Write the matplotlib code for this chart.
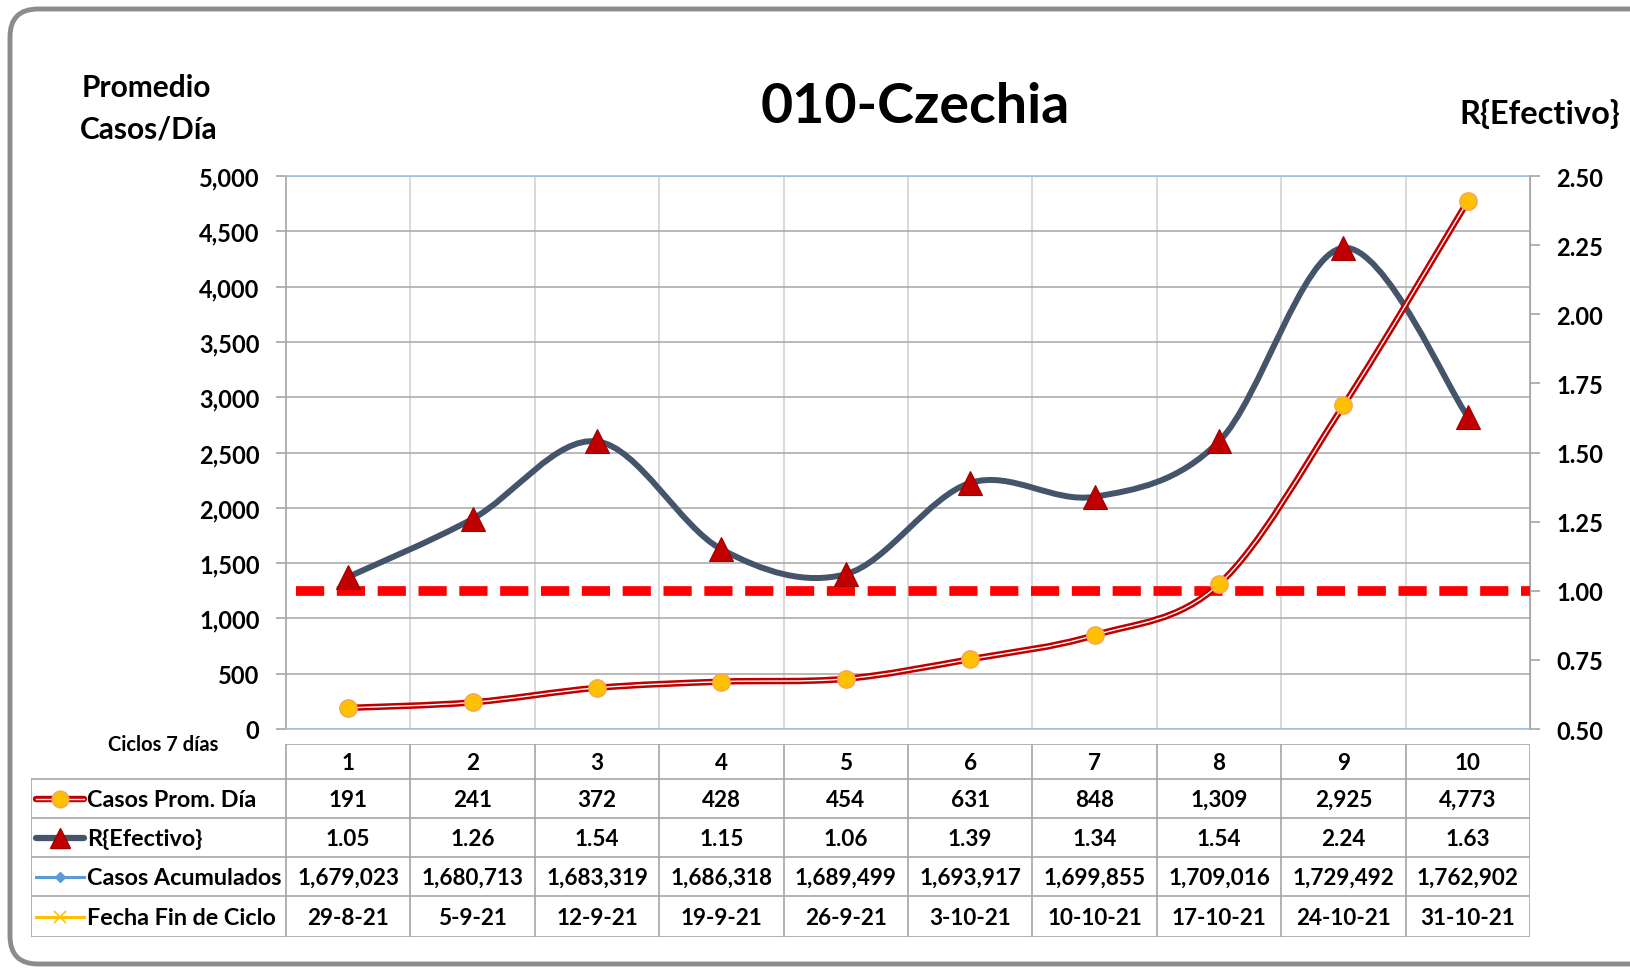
import matplotlib.pyplot as plt
from matplotlib.path import Path
from matplotlib.patches import PathPatch, FancyBboxPatch

# -------------------------
# Data
# -------------------------
ciclos = [1, 2, 3, 4, 5, 6, 7, 8, 9, 10]
casos_prom = [191, 241, 372, 428, 454, 631, 848, 1309, 2925, 4773]
r_efectivo = [1.05, 1.26, 1.54, 1.15, 1.06, 1.39, 1.34, 1.54, 2.24, 1.63]
casos_acum = [1679023, 1680713, 1683319, 1686318, 1689499,
              1693917, 1699855, 1709016, 1729492, 1762902]
fechas = ["29-8-21", "5-9-21", "12-9-21", "19-9-21", "26-9-21",
          "3-10-21", "10-10-21", "17-10-21", "24-10-21", "31-10-21"]
r_umbral = 1.0

row_labels = ["Casos Prom. Día", "R{Efectivo}", "Casos Acumulados", "Fecha Fin de Ciclo"]

plt.rcParams['font.family'] = ['Lato', 'DejaVu Sans']
plt.rcParams['font.weight'] = 'bold'

W, H = 1630, 970
RED = "#C00000"
SLATE = "#44546A"
GRID = "#A6A6A6"


def px_box(x0, y0, x1, y1):
    return [x0 / W, 1 - y1 / H, (x1 - x0) / W, (y1 - y0) / H]


def smooth_path(xs, ys):
    # Excel-style smoothed line: cubic bezier through every point
    pts = list(zip(xs, ys))
    n = len(pts)
    verts = [pts[0]]
    codes = [Path.MOVETO]
    for i in range(n - 1):
        p0 = pts[max(i - 1, 0)]
        p1 = pts[i]
        p2 = pts[i + 1]
        p3 = pts[min(i + 2, n - 1)]
        c1 = (p1[0] + (p2[0] - p0[0]) / 6, p1[1] + (p2[1] - p0[1]) / 6)
        c2 = (p2[0] - (p3[0] - p1[0]) / 6, p2[1] - (p3[1] - p1[1]) / 6)
        verts += [c1, c2, p2]
        codes += [Path.CURVE4] * 3
    return Path(verts, codes)


fig = plt.figure(figsize=(W / 100, H / 100), dpi=100)

# -------------------------
# Background frame + texts
# -------------------------
bg = fig.add_axes([0, 0, 1, 1])
bg.set_xlim(0, W)
bg.set_ylim(H, 0)
bg.axis("off")
bg.add_patch(FancyBboxPatch((10, 10), 1650, 955,
                            boxstyle="round,pad=0,rounding_size=28",
                            fc="white", ec="#8C8C8C", lw=3.5))

bg.text(915, 107, "010-Czechia", fontsize=40, ha="center", va="center")
bg.text(146, 88, "Promedio", fontsize=21.5, ha="center", va="center")
bg.text(149, 129, "Casos/Día", fontsize=21.5, ha="center", va="center")
bg.text(1540, 114, "R{Efectivo}", fontsize=23.5, ha="center", va="center")
bg.text(163, 745, "Ciclos 7 días", fontsize=14.5, ha="center", va="center")

# -------------------------
# Main chart
# -------------------------
ax = fig.add_axes(px_box(286, 177, 1530, 730))
axr = ax.twinx()

ax.set_yticks(range(0, 5001, 500))
ax.set_yticklabels([f"{v:,}" for v in range(0, 5001, 500)])
ax.set_xticks([c + 0.5 for c in ciclos[:-1]])
ax.set_xticklabels([])
ax.tick_params(axis="x", length=0)
ax.tick_params(axis="y", length=7, width=1.2, color=GRID, pad=12, labelsize=17)
ax.yaxis.grid(True, color=GRID, lw=1.1)
ax.xaxis.grid(True, color="#D0D0D0", lw=1.1)
ax.set_axisbelow(True)
for s in ["top", "bottom"]:
    ax.spines[s].set_color("#9DC3E6")
    ax.spines[s].set_linewidth(1.2)
for s in ["left", "right"]:
    ax.spines[s].set_color(GRID)
    ax.spines[s].set_linewidth(1.2)

r_ticks = [0.5, 0.75, 1.0, 1.25, 1.5, 1.75, 2.0, 2.25, 2.5]
axr.set_yticks(r_ticks)
axr.set_yticklabels([f"{v:.2f}" for v in r_ticks])
axr.tick_params(axis="y", length=7, width=1.2, color=GRID, pad=12, labelsize=17)
for s in ["top", "bottom", "left"]:
    axr.spines[s].set_visible(False)
axr.spines["right"].set_color(GRID)

# umbral R = 1
axr.axhline(r_umbral, xmin=0.008, xmax=1, color="#FF0000", lw=7,
            dashes=(2.9, 1.3), solid_capstyle="butt", dash_capstyle="butt", zorder=1)

# R efectivo
axr.add_patch(PathPatch(smooth_path(ciclos, r_efectivo), fill=False,
                        ec=SLATE, lw=4.3, capstyle="round", zorder=2))
axr.plot(ciclos, r_efectivo, linestyle="none", marker="^", ms=17,
         mfc=RED, mec="#A00000", mew=0.8, zorder=3)

# casos promedio (double red line) on top
cp = smooth_path(ciclos, casos_prom)
axr.add_patch(PathPatch(cp, transform=ax.transData, fill=False,
                        ec=RED, lw=4.6, capstyle="round", zorder=4))
axr.add_patch(PathPatch(cp, transform=ax.transData, fill=False,
                        ec="white", lw=1.0, capstyle="round", zorder=5))
axr.plot(ciclos, casos_prom, transform=ax.transData, linestyle="none",
         marker="o", ms=12.5, mfc="#FFC000", mec="#F4A460", mew=1.0, zorder=6)

ax.set_xlim(0.5, 10.5)
ax.set_ylim(0, 5000)
axr.set_xlim(0.5, 10.5)
axr.set_ylim(0.5, 2.5)

# -------------------------
# Data table
# -------------------------
tab_left, tab_right = 31, 1530
col_px = (tab_right - 286) / len(ciclos)
label_cols = (286 - tab_left) / col_px
row_edges = [745, 780, 819, 858, 897, 938]

tb = fig.add_axes(px_box(tab_left, row_edges[0], tab_right, row_edges[-1]))
x_min = 0.5 - label_cols
tb.set_xlim(x_min, 10.5)
tb.set_ylim(row_edges[-1], row_edges[0])
tb.axis("off")


def lx(px):
    return x_min + (px - tab_left) / col_px


line_kw = dict(color=GRID, lw=1.2)
tb.plot([0.5, 10.5], [row_edges[0]] * 2, **line_kw)
for y in row_edges[1:]:
    tb.plot([x_min, 10.5], [y, y], **line_kw)
for c in ciclos:
    tb.plot([c - 0.5, c - 0.5], [row_edges[0], row_edges[-1]], **line_kw)
tb.plot([10.5, 10.5], [row_edges[0], row_edges[-1]], **line_kw)
tb.plot([x_min, x_min], [row_edges[1], row_edges[-1]], **line_kw)

mid = [(row_edges[i] + row_edges[i + 1]) / 2 for i in range(5)]
rows = [
    [str(c) for c in ciclos],
    [f"{v:,}" for v in casos_prom],
    [f"{v:.2f}" for v in r_efectivo],
    [f"{v:,}" for v in casos_acum],
    fechas,
]
for r, vals in enumerate(rows):
    for c, v in zip(ciclos, vals):
        tb.text(c, mid[r] + 1, v, ha="center", va="center", fontsize=16.2)

# row labels with legend keys
k0, k1 = lx(36), lx(84)
kc = (k0 + k1) / 2
tb.plot([k0, k1], [mid[1]] * 2, color=RED, lw=4.6, solid_capstyle="round")
tb.plot([k0, k1], [mid[1]] * 2, color="white", lw=1.0)
tb.plot([kc], [mid[1]], marker="o", ms=12, mfc="#FFC000", mec="#F4A460")
tb.plot([k0, k1], [mid[2]] * 2, color=SLATE, lw=4.5, solid_capstyle="round")
tb.plot([kc], [mid[2]], marker="^", ms=14, mfc=RED, mec="#A00000")
tb.plot([k0, k1], [mid[3]] * 2, color="#5B9BD5", lw=2.2)
tb.plot([kc], [mid[3]], marker="D", ms=5, mfc="#5B9BD5", mec="#5B9BD5")
tb.plot([k0, k1], [mid[4]] * 2, color="#FFC000", lw=2.2)
tb.plot([kc], [mid[4]], marker="x", ms=9, mec="#FFC000", mew=1.2)
for r, lab in enumerate(row_labels):
    tb.text(lx(87), mid[r + 1] + 1, lab, ha="left", va="center", fontsize=16.8)

fig.savefig("out.png", dpi=100)
